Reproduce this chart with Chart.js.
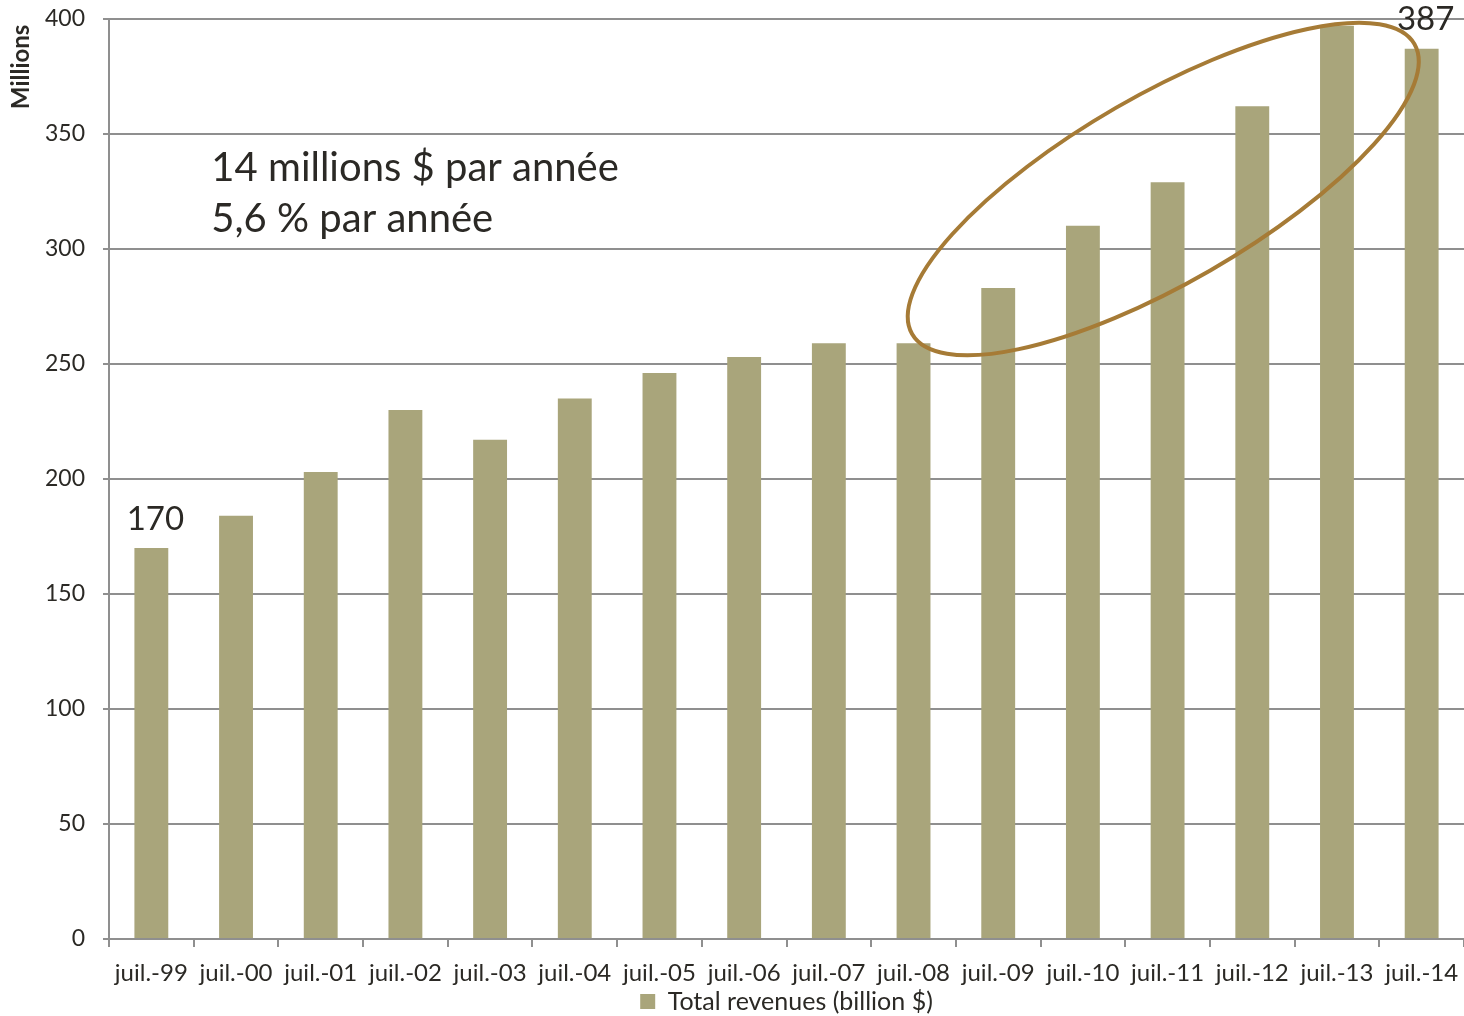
<!DOCTYPE html>
<html lang="fr">
<head>
    <meta charset="UTF-8">
    <title>Total revenues</title>
    <script src="https://cdn.jsdelivr.net/npm/chart.js"></script>
    <style>
        html, body { margin: 0; padding: 0; background: #fff; overflow: hidden; }
        .wrap { width: 1464px; height: 1029px; margin-top: -13px; }
    </style>
</head>
<body>
    <div class="wrap"><canvas id="revChart"></canvas></div>
    <script>
        // Données
        const labels = ['juil.-99', 'juil.-00', 'juil.-01', 'juil.-02', 'juil.-03', 'juil.-04', 'juil.-05', 'juil.-06',
            'juil.-07', 'juil.-08', 'juil.-09', 'juil.-10', 'juil.-11', 'juil.-12', 'juil.-13', 'juil.-14'];
        const revenues = [170, 184, 203, 230, 217, 235, 246, 253, 259, 259, 283, 310, 329, 362, 397, 387];
        const shownValues = { 0: '170', 15: '387' };
        const noteLines = ['14 millions $ par année', '5,6 % par année'];

        const FONT = 'Lato, "Open Sans", sans-serif';
        const TEXT = '#2b2925';
        const GRID = '#8f8f8f';

        // Étiquettes, texte et ellipse dessinés par-dessus
        const extras = {
            id: 'extras',
            afterDatasetsDraw(chart) {
                const ctx = chart.ctx;
                const meta = chart.getDatasetMeta(0);
                const x = chart.scales.x, y = chart.scales.y;
                ctx.save();
                ctx.fillStyle = TEXT;
                ctx.font = '33px ' + FONT;
                ctx.textAlign = 'center';
                ctx.textBaseline = 'middle';
                Object.keys(shownValues).forEach(i => {
                    const bar = meta.data[i];
                    ctx.fillText(shownValues[i], bar.x + 4, bar.y - 29);
                });

                // texte de taux
                ctx.textAlign = 'left';
                ctx.font = '40px ' + FONT;
                const tx = x.getPixelForValue(0) + 60;
                ctx.fillText(noteLines[0], tx, y.getPixelForValue(335));
                ctx.fillText(noteLines[1], tx, y.getPixelForValue(313));

                // ellipse autour des dernières années
                const cx = (x.getPixelForValue(11) + x.getPixelForValue(12)) / 2 + 38;
                const cy = y.getPixelForValue(326);
                ctx.strokeStyle = '#a67b36';
                ctx.lineWidth = 4;
                ctx.beginPath();
                ctx.ellipse(cx, cy, 290, 94, -30 * Math.PI / 180, 0, 2 * Math.PI);
                ctx.stroke();
                ctx.restore();
            }
        };

        const ctx = document.getElementById('revChart').getContext('2d');
        new Chart(ctx, {
            type: 'bar',
            data: {
                labels: labels,
                datasets: [{
                    label: 'Total revenues (billion $)',
                    data: revenues,
                    backgroundColor: '#a9a57b',
                    borderWidth: 0,
                    barPercentage: 0.4,
                    categoryPercentage: 1.0
                }]
            },
            options: {
                responsive: true,
                maintainAspectRatio: false,
                animation: false,
                layout: { padding: 0 },
                plugins: {
                    tooltip: { enabled: false },
                    legend: {
                        position: 'bottom',
                        fullSize: false,
                        maxHeight: 28,
                        labels: {
                            color: TEXT,
                            font: { family: FONT, size: 25 },
                            boxWidth: 15,
                            boxHeight: 15,
                            padding: 1
                        }
                    }
                },
                scales: {
                    x: {
                        grid: {
                            offset: true,
                            drawOnChartArea: false,
                            color: GRID,
                            lineWidth: 2,
                            tickLength: 8
                        },
                        border: { color: GRID, width: 2 },
                        ticks: {
                            color: TEXT,
                            font: { family: FONT, size: 24 },
                            maxRotation: 0,
                            autoSkip: false,
                            padding: 12
                        },
                        afterFit(scale) {
                            scale.height = 49;
                            scale.paddingLeft = 0;
                            scale.paddingRight = 0;
                        }
                    },
                    y: {
                        min: 0,
                        max: 400,
                        ticks: {
                            stepSize: 50,
                            color: TEXT,
                            font: { family: FONT, size: 23 },
                            padding: 18
                        },
                        grid: {
                            color: GRID,
                            lineWidth: 2,
                            tickLength: 6
                        },
                        border: { color: GRID, width: 2 },
                        title: {
                            display: true,
                            text: 'Millions\u00a0',
                            align: 'end',
                            color: TEXT,
                            font: { family: FONT, size: 24, weight: 'bold' },
                            padding: { top: 7, bottom: 0 }
                        },
                        afterFit(scale) { scale.width = 109; }
                    }
                }
            },
            plugins: [extras]
        });
    </script>
</body>
</html>
